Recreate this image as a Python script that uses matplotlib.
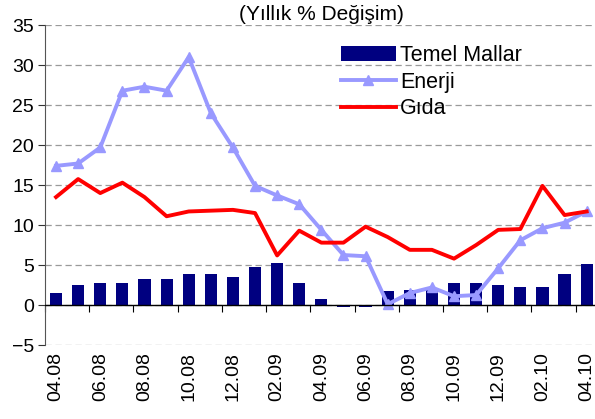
import numpy as np
import matplotlib
matplotlib.use('Agg')
import matplotlib.pyplot as plt

plt.rcParams['font.family'] = ['Liberation Sans', 'DejaVu Sans']

# aylar (04.08 - 04.10)
aylar = ['04.08', '05.08', '06.08', '07.08', '08.08', '09.08', '10.08', '11.08', '12.08',
         '01.09', '02.09', '03.09', '04.09', '05.09', '06.09', '07.09', '08.09', '09.09',
         '10.09', '11.09', '12.09', '01.10', '02.10', '03.10', '04.10']

temel_mallar = [1.5, 2.5, 2.8, 2.8, 3.2, 3.3, 3.9, 3.9, 3.5, 4.8, 5.2, 2.8, 0.7,
                -0.3, -0.2, 1.7, 1.9, 2.0, 2.8, 2.8, 2.5, 2.3, 2.3, 3.9, 5.1]
enerji = [17.4, 17.7, 19.7, 26.8, 27.3, 26.8, 31.0, 24.0, 19.7, 14.9, 13.7, 12.6, 9.4,
          6.25, 6.1, 0.1, 1.5, 2.2, 1.1, 1.25, 4.6, 8.1, 9.6, 10.3, 11.7]
gida = [13.5, 15.75, 14.0, 15.3, 13.5, 11.1, 11.7, 11.8, 11.9, 11.5, 6.2, 9.3, 7.8,
        7.8, 9.8, 8.5, 6.9, 6.9, 5.8, 7.5, 9.4, 9.5, 14.9, 11.25, 11.7]

x = np.arange(len(aylar))

fig = plt.figure(figsize=(5.95, 4.19), dpi=100)
ax = fig.add_axes([0.0756, 0.1766, 0.929, 0.7634])

ax.set_ylim(-5, 35)
ax.set_xlim(-0.5, len(aylar) - 0.5)
ax.set_yticks(np.arange(-5, 36, 5))
ax.yaxis.grid(True, linestyle=(0, (5, 3)), color='#9a9a9a', linewidth=0.9)
ax.set_axisbelow(True)

barlar = ax.bar(x, temel_mallar, width=0.55, color='#000080', label='Temel Mallar', zorder=2)
l_enerji, = ax.plot(x, enerji, color='#9999FF', linewidth=2.8, marker='^', markersize=6.5,
                    label='Enerji', zorder=3)
l_gida, = ax.plot(x, gida, color='#FF0000', linewidth=2.8, label='Gıda', zorder=4)

# eksenler
for s in ['top', 'right', 'bottom']:
    ax.spines[s].set_visible(False)
ax.spines['left'].set_color('#555555')
ax.tick_params(axis='y', labelsize=14, length=5, color='#333333', pad=3)
ax.axhline(0, color='black', linewidth=1, zorder=5)

ax.set_xticks(x[::2])
ax.set_xticklabels(aylar[::2], rotation=90, fontsize=14)
ax.tick_params(axis='x', length=0, pad=5)

# kategori sinirlarinda tik isaretleri (0 cizgisi uzerinde)
sec = ax.secondary_xaxis(0, transform=ax.transData)
sec.set_xticks(np.arange(-0.5, len(aylar), 2))
sec.set_xticklabels([])
sec.tick_params(length=5, color='black')
sec.spines['bottom'].set_visible(False)

ax.set_title('(Yıllık % Değişim)', fontsize=15, pad=4)

ax.legend([barlar, l_enerji, l_gida], ['Temel Mallar', 'Enerji', 'Gıda'],
          loc='upper left', bbox_to_anchor=(0.535, 0.937), frameon=False, fontsize=15.5,
          handlelength=2.55, handletextpad=0.2, labelspacing=0.25, borderaxespad=0,
          borderpad=0)

fig.savefig('out.png', dpi=100)
